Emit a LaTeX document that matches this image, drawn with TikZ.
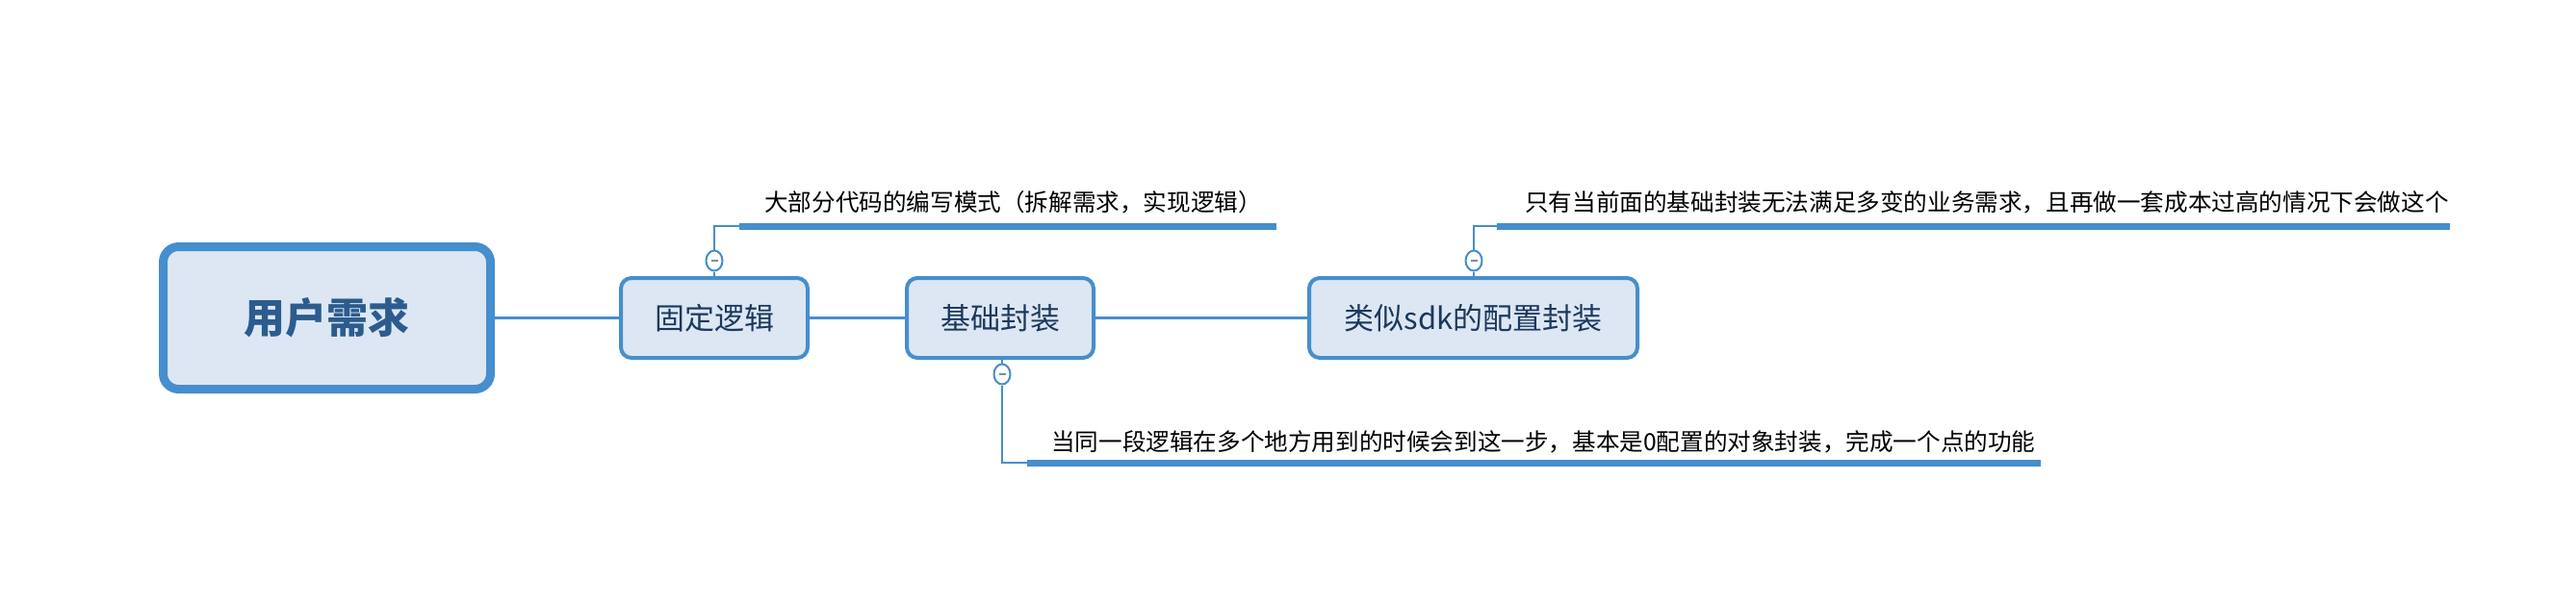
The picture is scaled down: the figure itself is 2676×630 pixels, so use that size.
\documentclass[tikz,border=0pt]{standalone}
\usepackage{fontspec}
\newfontfamily\cjk{Noto Sans CJK SC}
\usetikzlibrary{shapes.geometric}
\definecolor{mblue}{RGB}{70,142,205}
\definecolor{mfill}{RGB}{220,231,243}
\definecolor{roottext}{RGB}{44,92,142}
\definecolor{childtext}{RGB}{28,56,92}
\definecolor{minusc}{RGB}{120,140,170}
\tikzset{
  x=1pt, y=-1pt,
  rootbox/.style={draw=mblue, fill=mfill, line width=9pt, rounded corners=16pt,
    minimum width=340pt, minimum height=148pt, inner sep=0pt,
    font=\cjk\bfseries\fontsize{43}{50}\selectfont, text=roottext},
  childbox/.style={draw=mblue, fill=mfill, line width=4pt, rounded corners=11pt,
    minimum height=83pt, inner sep=0pt,
    font=\cjk\fontsize{31}{36}\selectfont, text=childtext},
  conn/.style={draw=mblue, line width=2.5pt},
  bar/.style={draw=mblue, line width=7pt},
  note/.style={anchor=west, inner sep=0pt, font=\cjk\fontsize{24.6}{28}\selectfont, text=black},
  collapse/.style={ellipse, draw=mblue, fill=white, line width=2pt, minimum width=17pt,
    minimum height=21pt, inner sep=0pt,
    path picture={\draw[minusc, line width=2pt] ([xshift=-3.5pt]path picture bounding box.center) -- ([xshift=3.5pt]path picture bounding box.center);}}
}
\begin{document}
\begin{tikzpicture}
\useasboundingbox (0,0) rectangle (2676,630);
% nodes
\node[rootbox] (root) at (339.5,330.5) {用户需求};
\node[childbox, minimum width=194pt] (n1) at (742,330.5) {固定逻辑};
\node[childbox, minimum width=194pt] (n2) at (1039,330.5) {基础封装};
\node[childbox, minimum width=341pt] (n3) at (1530.5,330.5) {类似sdk的配置封装};
% main connectors
\draw[conn] (root.east) -- (n1.west);
\draw[conn] (n1.east) -- (n2.west);
\draw[conn] (n2.east) -- (n3.west);
% collapse markers
\node[collapse] (c1) at (742,271) {};
\node[collapse] (c2) at (1531,271) {};
\node[collapse] (c3) at (1041,389) {};
% notes
\node[note] (t1) at (794,210) {大部分代码的编写模式（拆解需求，实现逻辑）};
\node[note] (t2) at (1584,210) {只有当前面的基础封装无法满足多变的业务需求，且再做一套成本过高的情况下会做这个};
\node[note] (t3) at (1092,459) {当同一段逻辑在多个地方用到的时候会到这一步，基本是0配置的对象封装，完成一个点的功能};
% bars
\coordinate (b1s) at (768,235);
\coordinate (b1e) at (1326,235);
\coordinate (b2s) at (1555,235);
\coordinate (b2e) at (2545,235);
\coordinate (b3s) at (1067,481);
\coordinate (b3e) at (2120,481);
\draw[bar] (b1s) -- (b1e);
\draw[bar] (b2s) -- (b2e);
\draw[bar] (b3s) -- (b3e);
% note connectors
\draw[conn] (n1.north) -- (c1.south);
\draw[conn] (c1.north) |- (b1s);
\draw[conn] (n3.north -| c2.south) -- (c2.south);
\draw[conn] (c2.north) |- (b2s);
\draw[conn] (n2.south -| c3.north) -- (c3.north);
\draw[conn] (c3.south) |- (b3s);
\end{tikzpicture}
\end{document}
